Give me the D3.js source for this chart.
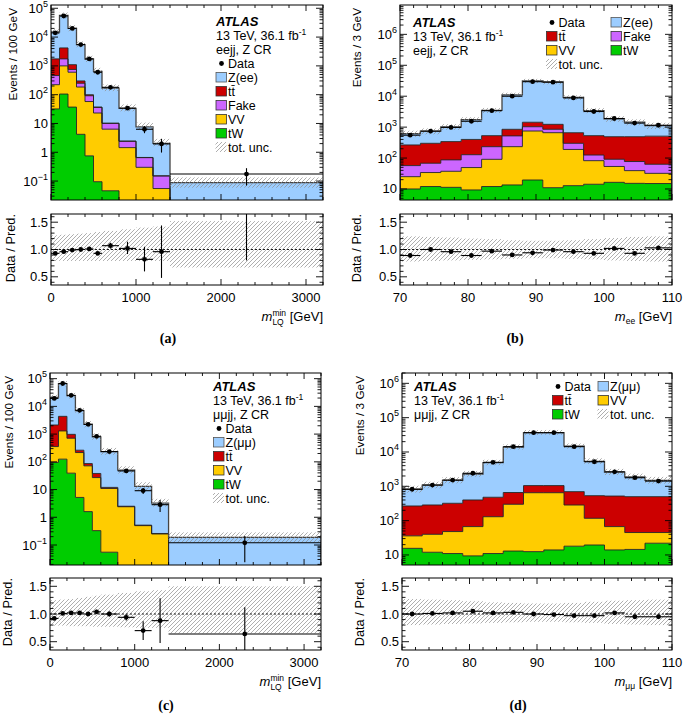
<!DOCTYPE html>
<html><head><meta charset="utf-8">
<script src="https://cdn.jsdelivr.net/npm/d3@7"></script>
<style>
body{margin:0;background:#fff}
svg{display:block}
text{font-family:"Liberation Sans",Arial,Helvetica,sans-serif;fill:#000}
</style>
</head><body>
<svg id="c" width="685" height="714"></svg>
<script>
// ---------------- DATA ----------------
const edgesLQ = [0,100,200,300,400,500,600,800,1000,1200,1400,3200];
const edgesM  = [70,73,76,79,82,85,88,91,94,97,100,103,106,110];
const xTicksLQ = [0,1000,2000,3000];
const xTicksM  = [70,80,90,100,110];
const ratioTicks = [0.5,1.0,1.5];
const logTicksA = [0.1,1,10,100,1e3,1e4,1e5];
const logTicksB = [10,100,1e3,1e4,1e5,1e6];

// (a) eejj, m_LQ^min
const dataA  = [14000,54000,20000,5500,1750,600,180,34,6.3,1.95,0.175];
const zA     = [13300,52000,19100,5200,1630,610,158,31,7.0,1.9,0.088];
const ttA    = [1290,2450,350,50,8,1,0.2,0.05,0.01,0.002,0];
const fakeA  = [240,750,150,65,34,13,3.7,0.95,0.35,0.095,0];
const vvA    = [190,895,565,180,57,23,6.3,1.45,0.3,0.055,0];
const twA    = [32,105,37,4.2,0.75,0.095,0.046,0,0,0,0];
const ratioA = [0.93,0.96,0.99,1.00,1.01,0.93,1.07,1.02,0.82,0.96,2.0];
const errLoA = [0.01,0.005,0.008,0.014,0.024,0.03,0.05,0.10,0.27,0.50,0.60];
const errHiA = [0.01,0.005,0.008,0.014,0.024,0.03,0.05,0.12,0.28,0.50,0.60];
const uncUpA = [0.26,0.27,0.28,0.29,0.30,0.32,0.34,0.37,0.40,0.42,0.52];
const uncDnA = [0.21,0.21,0.21,0.21,0.21,0.21,0.21,0.21,0.21,0.21,0.33];

// (b) eejj, m_ee
const dataB  = [550,740,980,1550,3400,10000,29500,28500,8800,3200,1900,1350,1150];
const zB     = [353,440,681,1342,2975,10260,29944,27557,8507,2911,1373,962,607];
const ttB    = [208,232,253,272,297,330,410,380,360,405,399,413,447];
const fakeB  = [32,34,50,79,142,287,280,190,110,43,38,38,31];
const vvB    = [15,22,26,40,79,220,730,650,177,68,37,24,17];
const twB    = [10,12,11.3,9.3,12,13.5,19.5,11,12.8,14.2,16.4,15.2,15];
const ratioB = [0.89,1.00,0.96,0.89,0.97,0.90,0.94,0.99,0.96,0.93,1.02,0.93,1.03];
const errB   = [0.042,0.037,0.032,0.025,0.017,0.01,0.006,0.006,0.011,0.018,0.023,0.027,0.03];
const uncUpB = [0.24,0.23,0.22,0.20,0.19,0.17,0.16,0.16,0.17,0.19,0.21,0.23,0.24];
const uncDnB = [0.22,0.21,0.20,0.19,0.18,0.17,0.16,0.16,0.17,0.18,0.20,0.21,0.22];

// (c) mumujj, m_LQ^min
const dataC  = [19400,67000,25000,7200,2250,830,235,47,9.1,2.85,0.12];
const zC     = [18960,61970,23530,6800,2163,760,223,47.5,12.5,2.98,0.19];
const ttC    = [1775,3070,270,46,15,11,1,0.1,0.02,0.01,0];
const vvC    = [260,1175,671,211,70,26.7,10.9,2.4,0.5,0.25,0];
const twC    = [95,125,39,5.2,1.6,0.33,0.055,0,0,0,0];
const ratioC = [0.92,1.01,1.02,1.02,1.00,1.04,1.00,0.94,0.70,0.88,0.64];
const errLoC = [0.007,0.004,0.006,0.012,0.021,0.035,0.045,0.06,0.24,0.46,0.80];
const errHiC = [0.007,0.004,0.006,0.012,0.021,0.035,0.045,0.06,0.24,0.46,0.75];
const uncUpC = [0.25,0.26,0.27,0.29,0.31,0.33,0.35,0.38,0.41,0.43,0.50];
const uncDnC = [0.21,0.21,0.22,0.22,0.22,0.23,0.23,0.24,0.25,0.25,0.35];

// (d) mumujj, m_mumu
const dataD  = [820,1090,1520,2400,5000,14300,36500,36500,14300,5200,2650,1780,1420];
const zD     = [553,793,1170,1886,4422,13223,35450,35819,14042,4827,2078,1374,995];
const ttD    = [231,246,272,333,350,360,400,400,415,417,453,455,455];
const vvD    = [20.4,28,37,57.6,119,287,637.5,636,267,97.5,53,30.5,23];
const twD    = [15.6,12,11,9.4,11,13,12.5,14,18,19.5,14,14.5,22];
const ratioD = [1.00,1.01,1.02,1.05,1.02,1.03,1.00,0.99,0.97,0.97,1.02,0.95,0.95];
const errD   = [0.035,0.03,0.026,0.02,0.014,0.008,0.005,0.005,0.008,0.014,0.02,0.024,0.026];
const uncUpD = [0.27,0.26,0.25,0.23,0.21,0.20,0.19,0.19,0.20,0.22,0.24,0.25,0.26];
const uncDnD = [0.20,0.19,0.18,0.17,0.16,0.15,0.14,0.14,0.15,0.16,0.18,0.19,0.20];

// ---------------- STYLE ----------------
const colZ="#9ccdff", colTT="#cc0000", colFake="#cc66ff", colVV="#ffcc00", colTW="#00cc00";
const FONT = 13, LFONT = 12.5;

const svg = d3.select("#c");
const defs = svg.append("defs");
const pat = defs.append("pattern").attr("id","hatch").attr("patternUnits","userSpaceOnUse")
  .attr("width",4).attr("height",4);
pat.append("path").attr("d","M-1,1 l2,-2 M0,4 l4,-4 M3,5 l2,-2")
  .attr("stroke","#8c8c8c").attr("stroke-width",0.7);

const panels = [
 {id:"a", edges:edgesLQ, xDomain:[0,3200], xMajor:xTicksLQ, xMinor:200,
  x0:51, x1:323, mainTop:5, mainBot:200, ratTop:214, ratBot:285,
  yDomain:[0.022,1.3e5], logTicks:logTicksA,
  layers:[[twA,colTW],[vvA,colVV],[fakeA,colFake],[ttA,colTT],[zA,colZ]],
  data:dataA, errLo:errLoA, errHi:errHiA, ratio:ratioA, up:uncUpA, dn:uncDnA,
  ytitle:"Events / 100 GeV", ytX:17, rtX:15, xsub:"LQ", label:"(a)", labelX:168, labelY:343},
 {id:"b", edges:edgesM, xDomain:[70,110], xMajor:xTicksM, xMinor:2,
  x0:400, x1:672, mainTop:5, mainBot:200, ratTop:214, ratBot:285,
  yDomain:[4.4,8.9e6], logTicks:logTicksB,
  layers:[[twB,colTW],[vvB,colVV],[fakeB,colFake],[ttB,colTT],[zB,colZ]],
  data:dataB, errLo:errB, errHi:errB, ratio:ratioB, up:uncUpB, dn:uncDnB,
  ytitle:"Events / 3 GeV", ytX:361, rtX:361, xsub:"ee", label:"(b)", labelX:515, labelY:343},
 {id:"c", edges:edgesLQ, xDomain:[0,3200], xMajor:xTicksLQ, xMinor:200,
  x0:50, x1:321, mainTop:373, mainBot:565, ratTop:578, ratBot:650,
  yDomain:[0.019,1.6e5], logTicks:logTicksA,
  layers:[[twC,colTW],[vvC,colVV],[ttC,colTT],[zC,colZ]],
  data:dataC, errLo:errLoC, errHi:errHiC, ratio:ratioC, up:uncUpC, dn:uncDnC,
  ytitle:"Events / 100 GeV", ytX:13, rtX:12, xsub:"LQ", label:"(c)", labelX:166, labelY:710},
 {id:"d", edges:edgesM, xDomain:[70,110], xMajor:xTicksM, xMinor:2,
  x0:402, x1:672, mainTop:373, mainBot:565, ratTop:578, ratBot:650,
  yDomain:[5.1,2.0e6], logTicks:logTicksB,
  layers:[[twD,colTW],[vvD,colVV],[ttD,colTT],[zD,colZ]],
  data:dataD, errLo:errD, errHi:errD, ratio:ratioD, up:uncUpD, dn:uncDnD,
  ytitle:"Events / 3 GeV", ytX:364, rtX:364, xsub:"\u03bc\u03bc", label:"(d)", labelX:518, labelY:710}
];

function logLabel(sel, v) {
  const e = Math.round(Math.log10(v));
  if (e === 0) { sel.text("1"); return; }
  if (e === 1) { sel.text("10"); return; }
  sel.append("tspan").text("10");
  sel.append("tspan").attr("dy",-6).attr("font-size",9).text(e < 0 ? "\u2212" + (-e) : String(e));
}

function drawPanel(p) {
  const g = svg.append("g");
  const x = d3.scaleLinear().domain(p.xDomain).range([p.x0, p.x1]);
  const y = d3.scaleLog().domain(p.yDomain).range([p.mainBot, p.mainTop]);
  const yr = d3.scaleLinear().domain([0.35,1.65]).range([p.ratBot, p.ratTop]);
  const nb = p.edges.length - 1;
  const bins = d3.range(nb);
  const yc = v => v > 0 ? Math.max(p.mainTop - 20, Math.min(p.mainBot + 5, y(v))) : p.mainBot + 5;

  defs.append("clipPath").attr("id","cm"+p.id).append("rect")
    .attr("x",p.x0).attr("y",p.mainTop).attr("width",p.x1-p.x0).attr("height",p.mainBot-p.mainTop);
  defs.append("clipPath").attr("id","cr"+p.id).append("rect")
    .attr("x",p.x0).attr("y",p.ratTop).attr("width",p.x1-p.x0).attr("height",p.ratBot-p.ratTop);

  const gm = g.append("g").attr("clip-path","url(#cm"+p.id+")");
  let cum = new Array(nb).fill(0);
  const tops = [];
  p.layers.forEach(([vals, col]) => {
    const lo = cum.slice();
    const hi = cum.map((c,i) => c + vals[i]);
    let d = "M" + x(p.edges[0]) + "," + yc(hi[0]);
    bins.forEach(i => { d += "V" + yc(hi[i]) + "H" + x(p.edges[i+1]); });
    for (let i = nb - 1; i >= 0; i--) { d += "V" + yc(lo[i]) + "H" + x(p.edges[i]); }
    d += "Z";
    gm.append("path").attr("d", d).attr("fill", col).attr("stroke","none");
    tops.push(hi);
    cum = hi;
  });
  const total = cum;
  tops.forEach((hi, k) => {
    let d = "M" + x(p.edges[0]) + "," + (p.mainBot + 5);
    bins.forEach(i => { d += "V" + yc(hi[i]) + "H" + x(p.edges[i+1]); });
    d += "V" + (p.mainBot + 5);
    gm.append("path").attr("d", d).attr("fill","none")
      .attr("stroke", k === tops.length - 1 ? "#444" : "#222")
      .attr("stroke-width", k === tops.length - 1 ? 1.3 : 0.9);
  });
  gm.append("g").selectAll("rect").data(bins).join("rect")
    .attr("x", i => x(p.edges[i])).attr("width", i => x(p.edges[i+1]) - x(p.edges[i]))
    .attr("y", i => yc(total[i]*(1+p.up[i])))
    .attr("height", i => yc(total[i]*(1-p.dn[i])) - yc(total[i]*(1+p.up[i])))
    .attr("fill","url(#hatch)");
  const dg = gm.append("g").selectAll("g").data(bins.filter(i => p.data[i] > 0)).join("g");
  dg.append("line").attr("x1", i => x(p.edges[i])).attr("x2", i => x(p.edges[i+1]))
    .attr("y1", i => y(p.data[i])).attr("y2", i => y(p.data[i]))
    .attr("stroke","#000").attr("stroke-width",1.1);
  dg.append("line").attr("x1", i => x((p.edges[i]+p.edges[i+1])/2)).attr("x2", i => x((p.edges[i]+p.edges[i+1])/2))
    .attr("y1", i => y(p.data[i]*(1-p.errLo[i]))).attr("y2", i => y(p.data[i]*(1+p.errHi[i])))
    .attr("stroke","#000").attr("stroke-width",1.1);
  dg.append("circle").attr("cx", i => x((p.edges[i]+p.edges[i+1])/2)).attr("cy", i => y(p.data[i]))
    .attr("r",2.4).attr("fill","#000");

  const gr = g.append("g").attr("clip-path","url(#cr"+p.id+")");
  gr.append("g").selectAll("rect").data(bins).join("rect")
    .attr("x", i => x(p.edges[i])).attr("width", i => x(p.edges[i+1]) - x(p.edges[i]))
    .attr("y", i => yr(1+p.up[i])).attr("height", i => yr(1-p.dn[i]) - yr(1+p.up[i]))
    .attr("fill","url(#hatch)");
  gr.append("line").attr("x1",p.x0).attr("x2",p.x1).attr("y1",yr(1)).attr("y2",yr(1))
    .attr("stroke","#000").attr("stroke-width",0.9).attr("stroke-dasharray","2,2");
  const rg = gr.append("g").selectAll("g").data(bins).join("g");
  rg.append("line").attr("x1", i => x(p.edges[i])).attr("x2", i => x(p.edges[i+1]))
    .attr("y1", i => yr(p.ratio[i])).attr("y2", i => yr(p.ratio[i]))
    .attr("stroke","#000").attr("stroke-width",1.1);
  rg.append("line").attr("x1", i => x((p.edges[i]+p.edges[i+1])/2)).attr("x2", i => x((p.edges[i]+p.edges[i+1])/2))
    .attr("y1", i => yr(p.ratio[i]*(1-p.errLo[i]))).attr("y2", i => yr(p.ratio[i]*(1+p.errHi[i])))
    .attr("stroke","#000").attr("stroke-width",1.1);
  rg.append("circle").attr("cx", i => x((p.edges[i]+p.edges[i+1])/2)).attr("cy", i => yr(p.ratio[i]))
    .attr("r",2.4).attr("fill","#000");

  const tk = g.append("g").attr("stroke","#000").attr("stroke-width",0.9);
  const hline = (x1,x2,yy) => tk.append("line").attr("x1",x1).attr("x2",x2).attr("y1",yy).attr("y2",yy);
  const vline = (xx,y1,y2) => tk.append("line").attr("x1",xx).attr("x2",xx).attr("y1",y1).attr("y2",y2);
  const eMin = Math.floor(Math.log10(p.yDomain[0])), eMax = Math.ceil(Math.log10(p.yDomain[1]));
  for (let e = eMin; e <= eMax; e++) {
    for (let m = 1; m <= 9; m++) {
      const v = m * Math.pow(10, e);
      if (v < p.yDomain[0] || v > p.yDomain[1]) continue;
      const len = m === 1 ? 7 : 3.5, yy = y(v);
      hline(p.x0, p.x0+len, yy); hline(p.x1, p.x1-len, yy);
    }
  }
  p.logTicks.forEach(v => {
    const t = g.append("text").attr("x", p.x0 - 3).attr("y", y(v) + 4.5)
      .attr("text-anchor","end").attr("font-size",FONT);
    logLabel(t, v);
  });
  const xs = d3.range(p.xDomain[0], p.xDomain[1] + 1e-9, p.xMinor);
  xs.forEach(v => {
    const major = p.xMajor.some(m => Math.abs(m - v) < 1e-9);
    const len = major ? 6 : 3, xx = x(v);
    vline(xx, p.mainBot, p.mainBot - len); vline(xx, p.mainTop, p.mainTop + len);
    vline(xx, p.ratBot, p.ratBot - len); vline(xx, p.ratTop, p.ratTop + len);
  });
  p.xMajor.forEach(v => {
    g.append("text").attr("x", x(v)).attr("y", p.ratBot + 17).attr("text-anchor","middle")
      .attr("font-size",FONT).text(v);
  });
  d3.range(4, 17).forEach(k => {
    const v = k / 10, major = (k % 5 === 0), len = major ? 7 : 3.5, yy = yr(v);
    hline(p.x0, p.x0+len, yy); hline(p.x1, p.x1-len, yy);
  });
  ratioTicks.forEach(v => {
    g.append("text").attr("x", p.x0 - 3).attr("y", yr(v) + 4.5).attr("text-anchor","end")
      .attr("font-size",FONT).text(v.toFixed(1));
  });
  g.append("rect").attr("x",p.x0).attr("y",p.mainTop).attr("width",p.x1-p.x0).attr("height",p.mainBot-p.mainTop)
    .attr("fill","none").attr("stroke","#000").attr("stroke-width",1);
  g.append("rect").attr("x",p.x0).attr("y",p.ratTop).attr("width",p.x1-p.x0).attr("height",p.ratBot-p.ratTop)
    .attr("fill","none").attr("stroke","#000").attr("stroke-width",1);
  g.append("text").attr("transform","translate("+p.ytX+","+(p.mainTop+3)+") rotate(-90)")
    .attr("text-anchor","end").attr("font-size",11.8).text(p.ytitle);
  g.append("text").attr("transform","translate("+p.rtX+","+(p.ratTop)+") rotate(-90)")
    .attr("text-anchor","end").attr("font-size",12.8).text("Data / Pred.");
  const xt = g.append("text").attr("x", p.x1).attr("y", p.ratBot + 36).attr("text-anchor","end").attr("font-size",FONT);
  xt.append("tspan").attr("font-style","italic").text("m");
  if (p.xsub === "LQ") {
    xt.append("tspan").attr("font-size",8.5).attr("dy",-5).text("min");
    xt.append("tspan").attr("font-size",8.5).attr("dx",-13.7).attr("dy",9).text("LQ");
    xt.append("tspan").attr("dy",-4).attr("dx",2.4).text(" [GeV]");
  } else {
    xt.append("tspan").attr("font-size",8.5).attr("dy",3).text(p.xsub);
    xt.append("tspan").attr("dy",-3).text(" [GeV]");
  }
  g.append("text").attr("x",p.labelX).attr("y",p.labelY).attr("text-anchor","middle")
    .attr("font-weight","bold").attr("font-size",14)
    .style("font-family","'Liberation Serif','Times New Roman',serif").text(p.label);
}

panels.forEach(drawPanel);

// ---------------- LABELS & LEGENDS ----------------
function atlas(x, y, channel) {
  svg.append("text").attr("x",x).attr("y",y).attr("font-size",13).attr("font-weight","bold")
    .attr("font-style","italic").text("ATLAS");
  const t = svg.append("text").attr("x",x).attr("y",y+14).attr("font-size",LFONT);
  t.append("tspan").text("13 TeV, 36.1 fb");
  t.append("tspan").attr("dy",-5).attr("font-size",8.5).text("-1");
  svg.append("text").attr("x",x).attr("y",y+28).attr("font-size",LFONT).text(channel);
}
function legEntry(type, col, label, bx, by) {
  if (type === "data") {
    svg.append("circle").attr("cx",bx+6).attr("cy",by-4.5).attr("r",2.4).attr("fill","#000");
  } else if (type === "unc") {
    svg.append("rect").attr("x",bx).attr("y",by-10).attr("width",11).attr("height",10).attr("fill","url(#hatch)");
  } else {
    svg.append("rect").attr("x",bx+0.5).attr("y",by-9.5).attr("width",10.5).attr("height",9.5)
      .attr("fill",col).attr("stroke", col === colZ ? "#555" : "#333").attr("stroke-width",0.8);
  }
  svg.append("text").attr("x",bx+12.5).attr("y",by).attr("font-size",LFONT).text(label);
}
const TT = "tt\u0304";
// (a)
atlas(216, 26, "eejj, Z CR");
[["data",null,"Data"],["box",colZ,"Z(ee)"],["box",colTT,TT],["box",colFake,"Fake"],
 ["box",colVV,"VV"],["box",colTW,"tW"],["unc",null,"tot. unc."]]
 .forEach((e,k) => legEntry(e[0], e[1], e[2], 215.5, 68 + k*14));
// (b)
atlas(413, 27, "eejj, Z CR");
legEntry("data",null,"Data",546,27);
legEntry("box",colZ,"Z(ee)",610.5,27);
legEntry("box",colTT,TT,546,41);
legEntry("box",colFake,"Fake",610.5,41);
legEntry("box",colVV,"VV",546,55);
legEntry("box",colTW,"tW",610.5,55);
legEntry("unc",null,"tot. unc.",546,69);
// (c)
atlas(213, 391, "\u03bc\u03bcjj, Z CR");
[["data",null,"Data"],["box",colZ,"Z(\u03bc\u03bc)"],["box",colTT,TT],
 ["box",colVV,"VV"],["box",colTW,"tW"],["unc",null,"tot. unc."]]
 .forEach((e,k) => legEntry(e[0], e[1], e[2], 213, 433 + k*14));
// (d)
atlas(414, 391, "\u03bc\u03bcjj, Z CR");
legEntry("data",null,"Data",552,391);
legEntry("box",colZ,"Z(\u03bc\u03bc)",597.5,391);
legEntry("box",colTT,TT,552,405);
legEntry("box",colVV,"VV",597.5,405);
legEntry("box",colTW,"tW",552,419);
legEntry("unc",null,"tot. unc.",597.5,419);
</script>
</body></html>
